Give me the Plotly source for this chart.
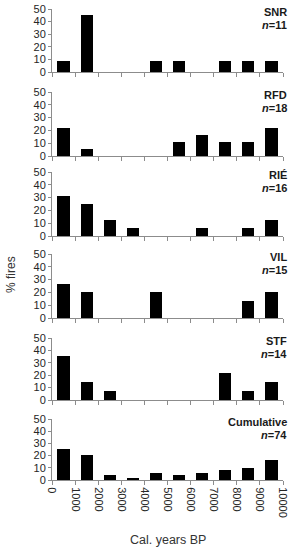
import plotly.graph_objects as go
from plotly.subplots import make_subplots

bin_centers = [500, 1500, 2500, 3500, 4500, 5500, 6500, 7500, 8500, 9500]
x_ticks = [0, 1000, 2000, 3000, 4000, 5000, 6000, 7000, 8000, 9000, 10000]
x_tick_labels = ["0", "1000", "2000", "3000", "4000", "5000", "6000", "7000", "8000", "9000", "10000"]

sites = ["SNR", "RFD", "RIÉ", "VIL", "STF", "Cumulative"]
n_values = [11, 18, 16, 15, 14, 74]

snr = [9.1, 45.5, 0, 0, 9.1, 9.1, 0, 9.1, 9.1, 9.1]
rfd = [22.2, 5.6, 0, 0, 0, 11.1, 16.7, 11.1, 11.1, 22.2]
rie = [31.3, 25.0, 12.5, 6.3, 0, 0, 6.3, 0, 6.3, 12.5]
vil = [26.7, 20.0, 0, 0, 20.0, 0, 0, 0, 13.3, 20.0]
stf = [35.7, 14.3, 7.1, 0, 0, 0, 0, 21.4, 7.1, 14.3]
cumulative = [25.7, 20.3, 4.1, 1.4, 5.4, 4.1, 5.4, 8.1, 9.5, 16.2]

series = [snr, rfd, rie, vil, stf, cumulative]

W, H = 294, 550
L, R = 52, 11
PW = W - L - R
panels_px = [(9, 72), (92, 156), (172, 236), (254, 318), (338, 400), (419, 480)]

fig = make_subplots(rows=6, cols=1)

axis_color = "#8c8c8c"
FONT = "Liberation Sans, Arial, sans-serif"
tick_font = dict(family=FONT, size=11, color="#262626")

for i, vals in enumerate(series):
    r = i + 1
    fig.add_trace(go.Bar(x=bin_centers, y=vals, width=530,
                         marker=dict(color="black", line=dict(width=0)),
                         showlegend=False, hoverinfo="x+y"), row=r, col=1)
    top, bot = panels_px[i]
    dom = [1 - bot / H, 1 - top / H]
    ph = bot - top
    xa = "xaxis" if r == 1 else f"xaxis{r}"
    ya = "yaxis" if r == 1 else f"yaxis{r}"
    last = (r == 6)
    fig.layout[xa].update(range=[0, 10000], tickvals=x_ticks, ticktext=x_tick_labels,
                          showticklabels=last, tickangle=90, ticks="outside", ticklen=4,
                          tickcolor=axis_color, showline=True, linecolor=axis_color,
                          linewidth=1, showgrid=False, zeroline=False, tickfont=tick_font,
                          automargin=False)
    fig.layout[ya].update(domain=dom, range=[0, 50], dtick=10, tick0=0, ticks="outside",
                          ticklen=3, tickcolor=axis_color, showline=True,
                          linecolor=axis_color, linewidth=1, showgrid=False,
                          zeroline=False, tickfont=tick_font, automargin=False)
    xref = "x domain" if r == 1 else f"x{r} domain"
    yref = "y domain" if r == 1 else f"y{r} domain"
    fig.add_annotation(text=f"<b>{sites[i]}</b>", xref=xref, yref=yref,
                       x=(PW + 6) / PW, y=(ph - 3) / ph,
                       xanchor="right", yanchor="middle", showarrow=False,
                       font=dict(family=FONT, size=11, color="#1a1a1a"))
    fig.add_annotation(text=f"<b><i>n</i>={n_values[i]}</b>", xref=xref, yref=yref,
                       x=(PW + 6) / PW, y=(ph - 16) / ph,
                       xanchor="right", yanchor="middle", showarrow=False,
                       font=dict(family=FONT, size=11, color="#1a1a1a"))

fig.add_annotation(text="% fires", xref="paper", yref="paper", x=(11 - L) / PW,
                   y=1 - 275 / H, xanchor="center", yanchor="middle", textangle=-90,
                   showarrow=False, font=dict(family=FONT, size=12, color="#333333"))
fig.add_annotation(text="Cal. years BP", xref="paper", yref="paper", x=0.5,
                   y=1 - 540 / H, xanchor="center", yanchor="middle", showarrow=False,
                   font=dict(family=FONT, size=12.5, color="#333333"))

fig.update_layout(template="none", width=W, height=H,
                  margin=dict(l=L, r=R, t=0, b=0, pad=0),
                  plot_bgcolor="white", paper_bgcolor="white", bargap=0)

fig.write_html("out.html", config={"displayModeBar": False},
               post_script="document.body.style.margin='0';document.body.style.overflow='hidden';")
